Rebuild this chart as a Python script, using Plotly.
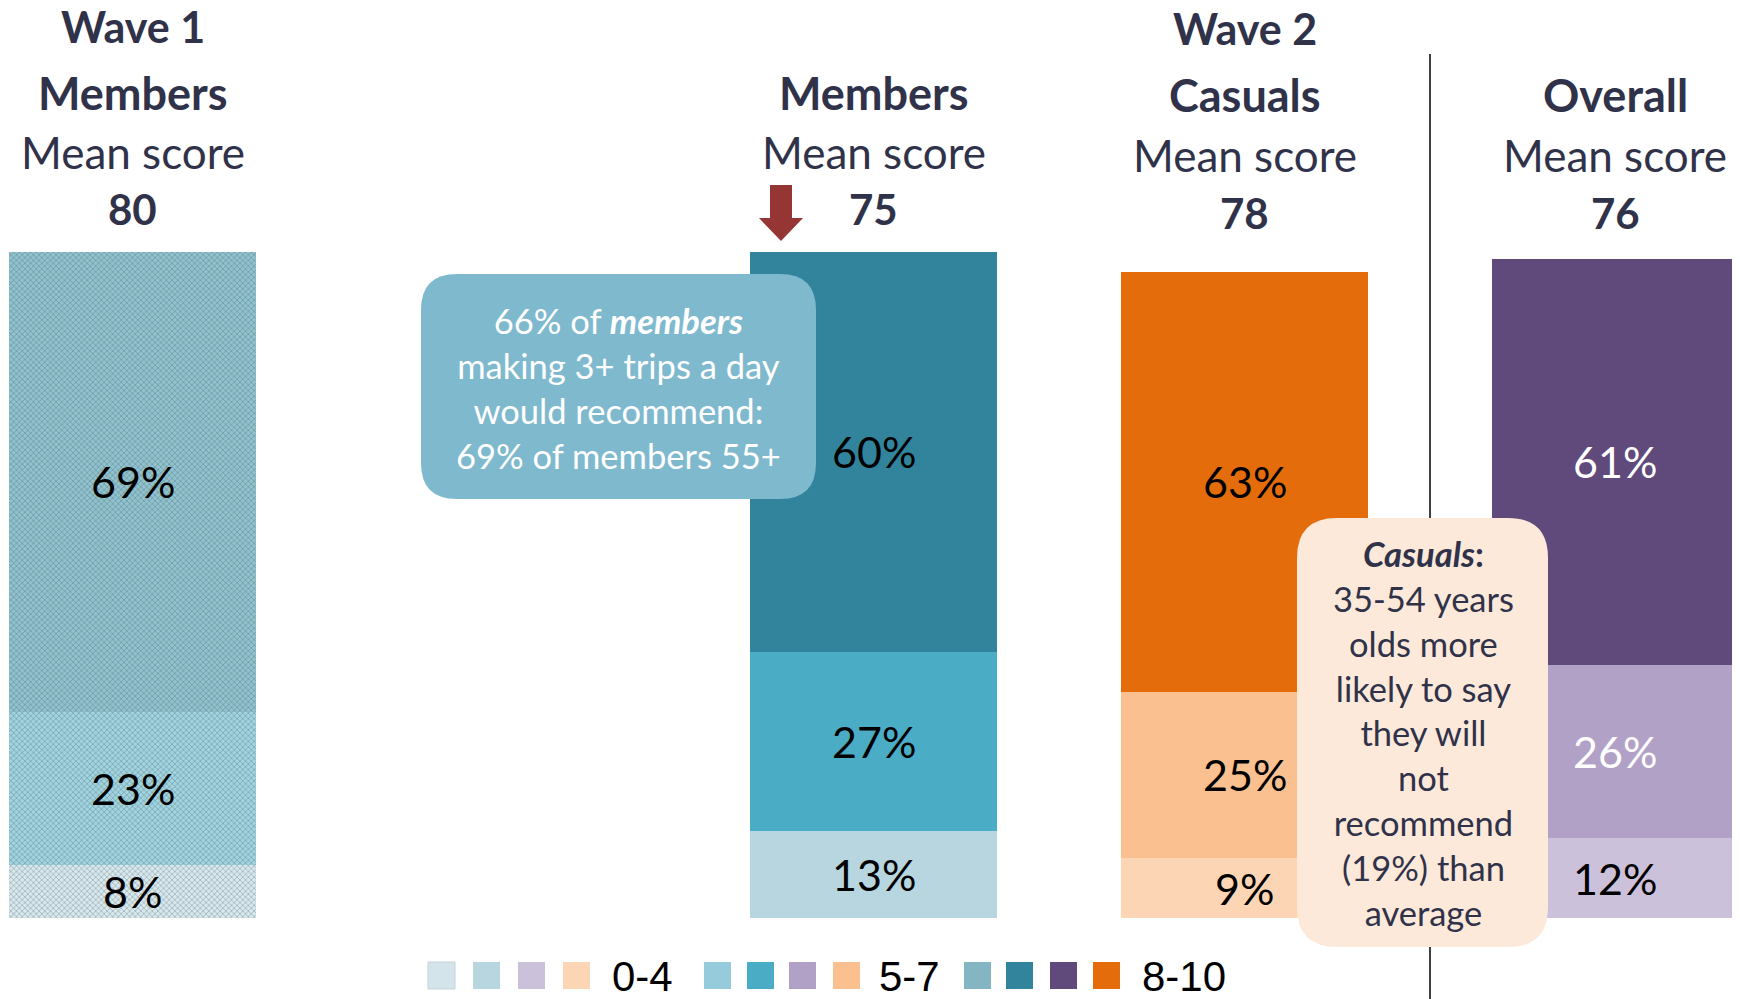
import plotly.graph_objects as go

# groups (left to right) and their stacked score bands
waves = ["Wave 1", "Wave 2"]
groups = ["Members", "Members", "Casuals", "Overall"]
mean_scores = [80, 75, 78, 76]
bands = ["0-4", "5-7", "8-10"]
score_0_4 = [8, 13, 9, 12]
score_5_7 = [23, 27, 25, 26]
score_8_10 = [69, 60, 63, 61]

members_note = "66% of <b><i>members</i></b><br>making 3+ trips a day<br>would recommend:<br>69% of members 55+"
casuals_note = ("<b><i>Casuals</i>:</b><br>35-54 years<br>olds more<br>likely to say<br>they will<br>not<br>"
                "recommend<br>(19%) than<br>average")

# styling
OFF = 8                      # page body margin
W, H = 1740 - OFF, 999 - OFF
slot = [0, 2, 3, 4]          # x slots of the four bars
colors = {
    "0-4": ["#d6e9ef", "#b7d6e0", "#fcd5b4", "#ccc1da"],
    "5-7": ["#9fd4e1", "#4bacc6", "#fac090", "#b2a1c7"],
    "8-10": ["#8fc3cf", "#31849b", "#e46c0a", "#604a7b"],
}
pattern_fg = {"0-4": "#c4dfe8", "5-7": "#86c4d3", "8-10": "#7aafbd"}
label_colors = {
    "0-4": ["black", "black", "black", "black"],
    "5-7": ["black", "black", "black", "white"],
    "8-10": ["black", "black", "black", "white"],
}
dark = "#30324a"
font = "Lato"


def px(x, y):
    return (x - OFF) / W, 1 - (y - OFF) / H


def rounded_rect(x0, y0, x1, y1, r):
    pts = [("M", x0 + r, y0), ("L", x1 - r, y0), ("Q", x1, y0, x1, y0 + r), ("L", x1, y1 - r),
           ("Q", x1, y1, x1 - r, y1), ("L", x0 + r, y1), ("Q", x0, y1, x0, y1 - r),
           ("L", x0, y0 + r), ("Q", x0, y0, x0 + r, y0)]
    out = ""
    for p in pts:
        cmd, coords = p[0], p[1:]
        s = []
        for i in range(0, len(coords), 2):
            a, b = px(coords[i], coords[i + 1])
            s.append(f"{a:.5f},{b:.5f}")
        out += cmd + " ".join(s) + " "
    return out + "Z"


def poly(points):
    s = []
    for i, (x, y) in enumerate(points):
        a, b = px(x, y)
        s.append(("M" if i == 0 else "L") + f"{a:.5f},{b:.5f}")
    return " ".join(s) + " Z"


fig = go.Figure()
series = {"0-4": score_0_4, "5-7": score_5_7, "8-10": score_8_10}
for band in bands:
    fig.add_trace(go.Bar(
        x=slot, y=series[band], name=band, width=0.666,
        marker=dict(color=colors[band], line=dict(width=0),
                    pattern=dict(shape=["x", "", "", ""], fgcolor=pattern_fg[band],
                                 size=4, solidity=0.25)),
        showlegend=False, hoverinfo="skip",
    ))

annotations = []
# segment labels
base = [0, 0, 0, 0]
for band in bands:
    for i, v in enumerate(series[band]):
        annotations.append(dict(x=slot[i], y=base[i] + v / 2, xref="x", yref="y", text=f"{v}%",
                                xanchor="center", yanchor="middle", showarrow=False,
                                font=dict(size=43, color=label_colors[band][i], family=font)))
        base[i] += v

# headers
header_y = [(93, 152, 209), (93, 152, 209), (95, 155, 213), (95, 155, 213)]
for i, g in enumerate(groups):
    y1, y2, y3 = header_y[i]
    for text, yy, size, bold in [(g, y1, 45, True), ("Mean score", y2, 44, False),
                                 (str(mean_scores[i]), y3, 42, True)]:
        annotations.append(dict(x=slot[i], y=px(0, yy)[1], xref="x", yref="paper",
                                text=f"<b>{text}</b>" if bold else text, showarrow=False,
                                xanchor="center", yanchor="middle",
                                font=dict(size=size, color=dark, family=font)))
for slot_i, wave, yy in [(0, waves[0], 26), (2, waves[1], 28)]:
    annotations.append(dict(x=slot[slot_i], y=px(0, yy)[1], xref="x", yref="paper", text=f"<b>{wave}</b>",
                            xanchor="center", yanchor="middle", showarrow=False,
                            font=dict(size=43, color=dark, family=font)))

# callout texts
annotations.append(dict(x=px(618, 0)[0], y=px(0, 388)[1], xref="paper", yref="paper", text=members_note,
                        xanchor="center", yanchor="middle", showarrow=False, align="center",
                        font=dict(size=34.5, color="white", family=font)))
annotations.append(dict(x=px(1423, 0)[0], y=px(0, 733)[1], xref="paper", yref="paper", text=casuals_note,
                        xanchor="center", yanchor="middle", showarrow=False, align="center",
                        font=dict(size=34.5, color=dark, family=font)))

shapes = [
    dict(type="line", xref="paper", yref="paper", x0=px(1430, 0)[0], x1=px(1430, 0)[0],
         y0=px(0, 54)[1], y1=0, line=dict(color="black", width=1.5)),
    dict(type="path", xref="paper", yref="paper", path=rounded_rect(421, 274, 816, 499, 36),
         fillcolor="#7fb9ce", line=dict(width=0), layer="above"),
    dict(type="path", xref="paper", yref="paper", path=rounded_rect(1297, 518, 1548, 947, 40),
         fillcolor="#fde9d9", line=dict(width=0), layer="above"),
    dict(type="path", xref="paper", yref="paper",
         path=poly([(770, 185), (792, 185), (792, 218), (803, 218), (781, 241), (759, 218), (770, 218)]),
         fillcolor="#963634", line=dict(width=0), layer="above"),
]

# custom legend: four swatches per band, then the band label
legend_swatch = {"0-4": ["#d3e4eb", "#b7d6e0", "#ccc1da", "#fcd5b4"],
                 "5-7": ["#96cbdb", "#4bacc6", "#b2a1c7", "#fac090"],
                 "8-10": ["#84b5c3", "#31849b", "#604a7b", "#e46c0a"]}
sq_left = [[428, 473, 518, 563], [704, 747, 789, 833], [964, 1006, 1050, 1093]]
text_left = [610, 877, 1140]
for b, band in enumerate(bands):
    for k, x0 in enumerate(sq_left[b]):
        shapes.append(dict(type="rect", xref="paper", yref="paper",
                           x0=px(x0, 0)[0], x1=px(x0 + 27, 0)[0], y0=px(0, 989)[1], y1=px(0, 962)[1],
                           fillcolor=legend_swatch[band][k],
                           line=dict(width=1 if (b == 0 and k == 0) else 0, color="#c5d3d9")))
    annotations.append(dict(x=px(text_left[b], 0)[0], y=px(0, 976)[1], xref="paper", yref="paper",
                            text=band, showarrow=False, xanchor="left", yanchor="middle",
                            font=dict(size=42, color="black", family="Liberation Sans")))

fig.update_layout(
    width=W, height=H, margin=dict(l=0, r=0, t=0, b=0),
    paper_bgcolor="white", plot_bgcolor="white", barmode="stack", bargap=0,
    xaxis=dict(range=[(OFF - 132.5) / 370.7, (1740 - 132.5) / 370.7], visible=False, fixedrange=True),
    yaxis=dict(range=[0, 100], domain=[1 - (918 - OFF) / H, 1 - (252 - OFF) / H],
               visible=False, fixedrange=True),
    annotations=annotations, shapes=shapes, font=dict(family=font),
)

fig.write_html("out.html")
